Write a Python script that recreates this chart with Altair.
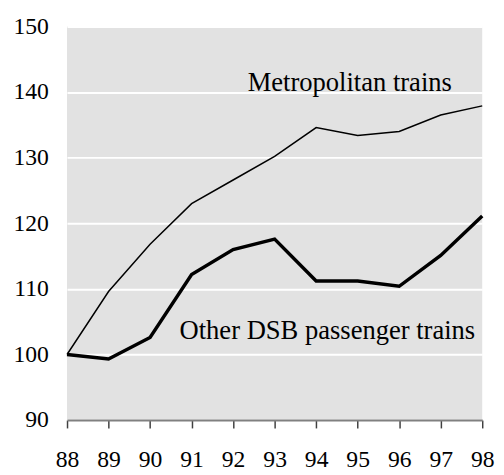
import altair as alt
import pandas as pd

years = [88, 89, 90, 91, 92, 93, 94, 95, 96, 97, 98]
metro = [100, 109.6, 116.8, 123.0, 126.6, 130.2, 134.6, 133.4, 134.0, 136.5, 137.9]
other = [100, 99.3, 102.6, 112.2, 116.0, 117.6, 111.2, 111.2, 110.4, 115.1, 121.1]

labels = ["Metropolitan trains", "Other DSB passenger trains"]
label_x = [92.35, 90.71]
label_y = [141.3, 103.6]

df = pd.DataFrame({
    "year": years * 2,
    "value": metro + other,
    "series": ["Metropolitan"] * len(years) + ["Other"] * len(years),
})
lab = pd.DataFrame({"x": label_x, "y": label_y, "text": labels})

FONT = "Times New Roman, Liberation Serif, serif"

x = alt.X("year:Q", scale=alt.Scale(domain=[88, 98], nice=False, zero=False),
          axis=alt.Axis(values=years, title=None, grid=False, format="d",
                        labelFontSize=24, labelFont=FONT, labelColor="#000",
                        domainColor="#808080", domainWidth=2, tickColor="#404040",
                        tickWidth=1.5, tickSize=8, labelPadding=20, labelFlush=False))
y = alt.Y("value:Q", scale=alt.Scale(domain=[90, 150], nice=False, zero=False),
          axis=alt.Axis(values=[90, 100, 110, 120, 130, 140, 150], title=None,
                        grid=True, gridColor="white", gridWidth=2, domain=False,
                        ticks=False, labelFontSize=24, labelFont=FONT,
                        labelColor="#000", labelPadding=19))

base = alt.Chart(df)
metro_line = base.transform_filter(alt.datum.series == "Metropolitan").mark_line(
    color="black", strokeWidth=1.5).encode(x=x, y=y)
other_line = base.transform_filter(alt.datum.series == "Other").mark_line(
    color="black", strokeWidth=3.5).encode(x=x, y=y)
text = alt.Chart(lab).mark_text(align="left", baseline="middle", font=FONT,
                                fontSize=27, color="black").encode(
    x=alt.X("x:Q"), y=alt.Y("y:Q"), text="text:N")

chart = alt.layer(metro_line, other_line, text).properties(
    width=422, height=400,
    autosize=alt.AutoSizeParams(type="none"),
    padding={"left": 60, "top": 15, "right": 14, "bottom": 52},
).configure_view(fill="#e2e2e2", stroke=None)

chart.save("out.html", embed_options={"renderer": "svg", "actions": False})
